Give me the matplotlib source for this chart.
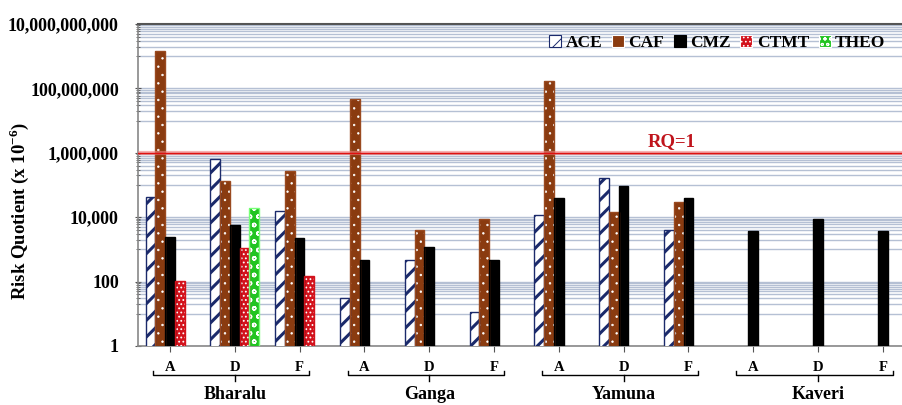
import numpy as np
import matplotlib
matplotlib.use("Agg")
import matplotlib.pyplot as plt
from matplotlib.patches import Patch
from matplotlib.ticker import FixedLocator, FuncFormatter, NullFormatter

plt.rcParams['font.family'] = ['Liberation Serif', 'DejaVu Serif']
plt.rcParams['font.weight'] = 'bold'
plt.rcParams['mathtext.fontset'] = 'custom'
plt.rcParams['mathtext.rm'] = 'Liberation Serif:bold'
plt.rcParams['mathtext.bf'] = 'Liberation Serif:bold'

# data (risk quotient x 10^-6), nan = no bar
rivers = ["Bharalu", "Ganga", "Yamuna", "Kaveri"]
sites = ["A", "D", "F"]
nan = np.nan
ace = [4.2e4, 6.4e5, 1.6e4, 30, 470, 11.6, 1.17e4, 1.6e5, 4.0e3, nan, nan, nan]
caf = [1.45e9, 1.3e5, 2.7e5, 4.7e7, 4.0e3, 8.6e3, 1.7e8, 1.5e4, 3.0e4, nan, nan, nan]
cmz = [2.4e3, 5.7e3, 2.2e3, 470, 1.2e3, 470, 4.0e4, 9.5e4, 4.0e4, 3.8e3, 8.9e3, 3.8e3]
ctmt = [105, 1.08e3, 150, nan, nan, nan, nan, nan, nan, nan, nan, nan]
theo = [nan, 1.9e4, nan, nan, nan, nan, nan, nan, nan, nan, nan, nan]

series = ["ACE", "CAF", "CMZ", "CTMT", "THEO"]
values = [ace, caf, cmz, ctmt, theo]
# face, hatch colour, edge, hatch, hatch width, legend hatch
styles = [
    ("white", "#1b2a6b", "#1b2a6b", "//", 2.2, "//"),
    ("#8a3b10", "white", "#9a4a20", "..", 0.5, "."),
    ("black", "black", "black", "", 1.0, ""),
    ("#d3121c", "white", "#d3121c", "....", 0.8, "...."),
    ("#22c422", "white", "#77ff77", "oo", 1.0, "ooo"),
]

fig = plt.figure(figsize=(9.03, 4.05), dpi=100)
ax = fig.add_axes([137.6 / 903, 59 / 405, 777.6 / 903, 322 / 405])
ax.set_yscale('log')

x = np.arange(len(rivers) * len(sites))
w = 0.15
for i, (name, vals) in enumerate(zip(series, values)):
    face, hc, edge, hatch, hw, lh = styles[i]
    pos = x + (i - 2) * w
    with plt.rc_context({'hatch.linewidth': hw}):
        ax.bar(pos, vals, w, color=face, edgecolor=hc, hatch=hatch, linewidth=0, zorder=3)
    ax.bar(pos, vals, w, fill=False, edgecolor=edge, linewidth=1.0, zorder=4)

ax.set_xlim(-0.5, len(x) - 0.5)
ax.set_ylim(1, 1e10)

major = [10.0 ** k for k in range(0, 11, 2)]
minor = [k * 10.0 ** (2 * m + 1) for m in range(5) for k in range(1, 10)]
ax.yaxis.set_major_locator(FixedLocator(major))
ax.yaxis.set_minor_locator(FixedLocator(minor))
ax.yaxis.set_major_formatter(FuncFormatter(lambda v, p: f"{int(round(v)):,}"))
ax.yaxis.set_minor_formatter(NullFormatter())
ax.tick_params(axis='y', which='major', labelsize=13, length=5, pad=11,
               direction='inout', color='#555555')
ax.tick_params(axis='y', which='minor', length=3, direction='inout', color='#555555')
ax.grid(True, axis='y', which='both', color='#b5c0d4', linewidth=1.0, zorder=0)

ax.set_xticks(x)
ax.set_xticklabels(sites * len(rivers), fontsize=10.5, fontweight='bold')
ax.tick_params(axis='x', length=4, pad=7, color='#555555')

for s in ['left', 'bottom']:
    ax.spines[s].set_color('#888888')
    ax.spines[s].set_linewidth(1.2)
ax.spines['top'].set_color('#555555')
ax.spines['top'].set_linewidth(1.5)
ax.spines['right'].set_visible(False)

# RQ = 1 line
ax.axhline(1e6, color='#f08080', linewidth=3, alpha=0.6, zorder=5)
ax.axhline(1e6, color='#e01010', linewidth=1.0, zorder=6)
ax.text(7.75, 1.25e6, "RQ=1", color='#c0141c', fontsize=13.5, fontweight='bold',
        ha='center', va='bottom', zorder=7)

ax.set_ylabel(r"Risk Quotient (x 10$^{-6}$)", fontsize=13.5, fontweight='bold')
ax.yaxis.set_label_coords(-0.137, 0.42)

# group brackets
tr = ax.get_xaxis_transform()
for g, name in enumerate(rivers):
    a = g * 3
    f = g * 3 + 2
    c = g * 3 + 1
    x0, x1 = a - 0.26, f + 0.15
    yb, yt, yd = -0.090, -0.078, -0.110
    ax.plot([x0, x0, x1, x1], [yt, yb, yb, yt], color='black', lw=1.0,
            transform=tr, clip_on=False)
    ax.plot([c, c], [yb, yd], color='black', lw=1.0, transform=tr, clip_on=False)
    ax.text(c, -0.125, name, transform=tr, ha='center', va='top',
            fontsize=13, fontweight='bold')

handles = []
for i, name in enumerate(series):
    face, hc, edge, hatch, hw, lh = styles[i]
    handles.append(Patch(facecolor=face, edgecolor=hc, hatch=lh, linewidth=0.8, label=name))
with plt.rc_context({'hatch.linewidth': 0.7}):
    fig.legend(handles=handles, loc='center left', bbox_to_anchor=(549 / 903, 1 - 43 / 405),
               ncol=5, frameon=False, fontsize=12.5, handlelength=0.7, handleheight=0.7,
               handletextpad=0.25, columnspacing=0.55, borderaxespad=0, borderpad=0)

fig.savefig("out.png", dpi=100)
